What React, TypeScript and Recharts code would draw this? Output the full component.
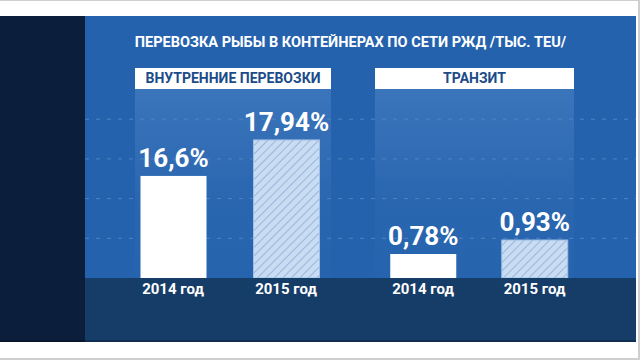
import React from 'react';
import { BarChart, Bar, XAxis, YAxis, LabelList, CartesianGrid } from 'recharts';

const chartTitle = 'ПЕРЕВОЗКА РЫБЫ В КОНТЕЙНЕРАХ ПО СЕТИ РЖД /ТЫС. TEU/';
const groupTitles = ['ВНУТРЕННИЕ ПЕРЕВОЗКИ', 'ТРАНЗИТ'];
const categories = ['2014 год', '2015 год'];
const domesticValues = [16.6, 17.94];
const transitValues = [0.78, 0.93];
const gridTicks = [1, 2, 3, 4];
const gridDomain = [0, 5];
// infographic (non-proportional) value axes, one per panel
const domesticDomain = [12.8, 20.19];
const transitDomain = [0.523, 2.65];

const FONT = "Roboto, 'DejaVu Sans', sans-serif";

const domesticData = categories.map((c, i) => ({ cat: c, value: domesticValues[i], idx: i }));
const transitData = categories.map((c, i) => ({ cat: c, value: transitValues[i], idx: i }));
const gridData = gridTicks.map((t) => ({ t, v: t }));

const fmt = (v: any) => String(v).replace('.', ',') + '%';

const Tick = (props: any) => {
  const { x, y, payload } = props;
  return (
    <text x={x} y={y + 16} textAnchor="middle" fill="#ffffff" fontSize={15} fontWeight={700} fontFamily={FONT}>
      {payload.value}
    </text>
  );
};

const BarShape = (props: any) => {
  const { x, y, width, height, payload } = props;
  if (payload.idx === 1) {
    return (
      <g>
        <rect x={x} y={y} width={width} height={height} fill="#c9dcf1" />
        <rect x={x} y={y} width={width} height={height} fill="url(#hatch)" stroke="#9fbfe4" strokeWidth={1} />
      </g>
    );
  }
  return <rect x={x} y={y} width={width} height={height} fill="#ffffff" />;
};

const PanelChart = ({ data, domain, left, right }: any) => (
  <div style={{ position: 'absolute', left: 0, top: 0 }}>
    <BarChart
      width={640}
      height={360}
      data={data}
      margin={{ top: 79.5, left, right, bottom: 52 }}
      barCategoryGap={0}
    >
      <defs>
        <pattern id="hatch" patternUnits="userSpaceOnUse" width={6} height={6} patternTransform="rotate(45)">
          <line x1={0} y1={0} x2={0} y2={6} stroke="#6592cc" strokeWidth={1} />
        </pattern>
      </defs>
      <XAxis dataKey="cat" axisLine={false} tickLine={false} tickSize={0} tickMargin={0} height={30} tick={<Tick />} interval={0} />
      <YAxis hide type="number" domain={domain} allowDataOverflow />
      <Bar dataKey="value" barSize={66} isAnimationActive={false} shape={<BarShape />}>
        <LabelList
          dataKey="value"
          position="top"
          offset={9}
          formatter={fmt}
          fill="#ffffff"
          fontSize={26}
          fontWeight={700}
          fontFamily={FONT}
        />
      </Bar>
    </BarChart>
  </div>
);

const columnBg = 'linear-gradient(to bottom, rgba(120,170,225,0.26) 0%, rgba(120,170,225,0.06) 60%, rgba(120,170,225,0.02) 100%)';

export default function App() {
  return (
    <div style={{ position: 'absolute', left: 0, top: 0, width: 640, height: 360, background: '#ffffff', overflow: 'hidden', fontFamily: FONT }}>
      <div style={{ position: 'absolute', left: 0, top: 0, width: 640, height: 1, background: '#cfcfcf' }} />
      <div style={{ position: 'absolute', left: 0, top: 358, width: 640, height: 2, background: '#cfcfcf' }} />
      <div style={{ position: 'absolute', left: 638, top: 0, width: 2, height: 360, background: '#cfcfcf' }} />
      {/* main blue */}
      <div style={{ position: 'absolute', left: 0, top: 16, width: 636, height: 326, background: '#2562ad' }} />
      {/* bottom band */}
      <div style={{ position: 'absolute', left: 85, top: 278, width: 551, height: 64, background: '#163c68', borderBottom: '2px solid #0f2c52', boxSizing: 'border-box' }} />
      {/* left dark strip */}
      <div style={{ position: 'absolute', left: 0, top: 16, width: 85, height: 326, background: '#0b1f3d', borderBottom: '2px solid #07162c', boxSizing: 'border-box' }} />
      {/* light columns */}
      <div style={{ position: 'absolute', left: 135, top: 89, width: 196, height: 189, background: columnBg }} />
      <div style={{ position: 'absolute', left: 375, top: 89, width: 199, height: 189, background: columnBg }} />
      {/* grid */}
      <div style={{ position: 'absolute', left: 0, top: 0 }}>
        <BarChart width={640} height={360} data={gridData} margin={{ top: 79.5, left: 85, right: 4, bottom: 82 }}>
          <CartesianGrid vertical={false} horizontalValues={gridTicks} stroke="#4d84c4" strokeDasharray="4 7" />
          <XAxis hide dataKey="t" />
          <YAxis hide type="number" domain={gridDomain} ticks={gridTicks} allowDataOverflow />
          <Bar dataKey="v" fill="transparent" isAnimationActive={false} />
        </BarChart>
      </div>
      <PanelChart data={domesticData} domain={domesticDomain} left={116.5} right={297.5} />
      <PanelChart data={transitData} domain={transitDomain} left={367.25} right={49.75} />
      {/* headers */}
      <div style={{ position: 'absolute', left: 135, top: 68, width: 196, height: 21, background: '#ffffff', color: '#1c4b89', fontSize: 14, fontWeight: 700, lineHeight: '21px', textAlign: 'center', whiteSpace: 'nowrap' }}>
        {groupTitles[0]}
      </div>
      <div style={{ position: 'absolute', left: 375, top: 68, width: 199, height: 21, background: '#ffffff', color: '#1c4b89', fontSize: 14, fontWeight: 700, lineHeight: '21px', textAlign: 'center', whiteSpace: 'nowrap' }}>
        {groupTitles[1]}
      </div>
      {/* title */}
      <div style={{ position: 'absolute', left: 100, top: 33, width: 501, height: 20, color: '#ffffff', fontSize: 14.5, fontWeight: 700, lineHeight: '20px', textAlign: 'center', whiteSpace: 'nowrap' }}>
        {chartTitle}
      </div>
    </div>
  );
}
